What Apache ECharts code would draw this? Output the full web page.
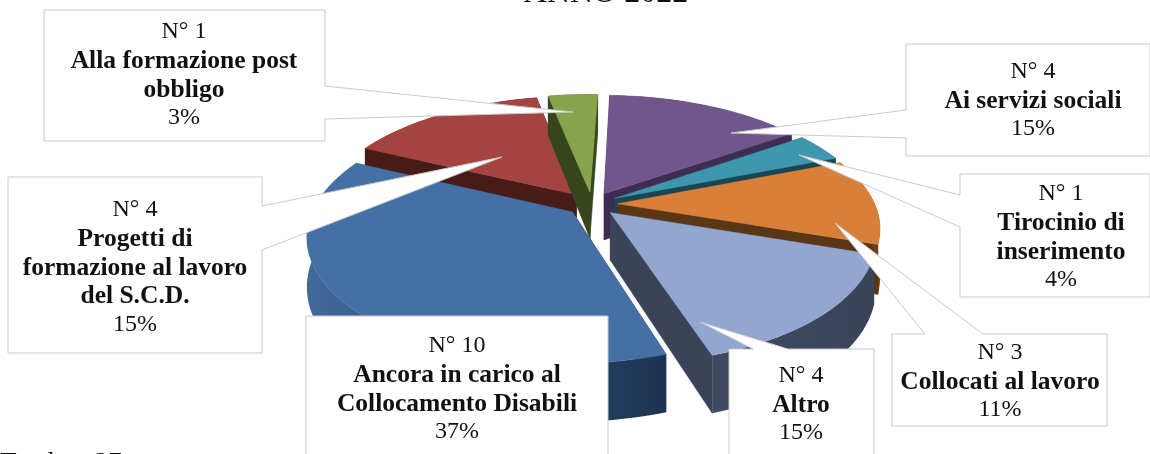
<!DOCTYPE html>
<html><head><meta charset="utf-8">
<style>html,body{margin:0;padding:0;background:#fff;overflow:hidden}#c{width:1150px;height:454px}</style>
<script src="https://cdn.jsdelivr.net/npm/echarts@6/dist/echarts.min.js"></script>
</head><body><div id="c"></div>
<script>
// ---- data ----
const categories = ['Ai servizi sociali','Tirocinio di inserimento','Collocati al lavoro','Altro','Ancora in carico al Collocamento Disabili','Progetti di formazione al lavoro del S.C.D.','Alla formazione post obbligo'];
const counts = [4,1,3,4,10,4,1];
const percents = ['15%','4%','11%','15%','37%','15%','3%'];
const labelLines = [['Ai servizi sociali'],['Tirocinio di','inserimento'],['Collocati al lavoro'],['Altro'],['Ancora in carico al','Collocamento Disabili'],['Progetti di','formazione al lavoro','del S.C.D.'],['Alla formazione post','obbligo']];
const topColors = ['#71568c','#3f96af','#d8803a','#92a6cf','#4570a6','#a44442','#87a34c'];
const wallColors = ['#3f2c52','#184655','#5a3516','#3a4358','#1f3654','#471b18','#37451c'];
const outerFrom = ['#3f2c52','#184655','#6b3f1a','#3e4a62','#41699a','#471b18','#37451c'];
const outerTo = ['#3f2c52','#184655','#6b3f1a','#3a4358','#1c3350','#471b18','#37451c'];
const paintOrder = [5,6,0,1,2,4,3];

// ---- 3D projection layout ----
const CX=592, CY=204, R=257, RY=120, K=0.185, DEPTH=47, EXPLODE=0.1, START=2;
const total = counts.reduce((a,b)=>a+b,0);
const FONT = '"Liberation Serif"';

function proj(u,v,z){const s=1/(1-K*v);return [CX+R*u*s, CY+RY*v*s+(z?DEPTH*s:0)];}
function pt(off,a,r,z){const t=a*Math.PI/180;return proj(off[0]+r*Math.sin(t),off[1]-r*Math.cos(t),z);}
function arc(off,a0,a1,z){const out=[],n=Math.max(4,Math.ceil((a1-a0)/2));for(let i=0;i<=n;i++)out.push(pt(off,a0+(a1-a0)*i/n,1,z));return out;}

const angles=[];let acc=START;
counts.forEach(c=>{const a0=acc;acc+=c/total*360;angles.push([a0,acc]);});

function renderItem(params,api){
  const i=paintOrder[params.dataIndex];
  const [a0,a1]=angles[i];
  const m=(a0+a1)/2*Math.PI/180;
  const off=[EXPLODE*Math.sin(m),-EXPLODE*Math.cos(m)];
  const topArc=arc(off,a0,a1,false), botArc=arc(off,a0,a1,true);
  const apexT=pt(off,0,0,false), apexB=pt(off,0,0,true);
  const xs=topArc.map(p=>p[0]);const xmin=Math.min(...xs),xmax=Math.max(...xs);
  const wall=(o)=>({type:'polygon',shape:{points:o},style:{fill:wallColors[i],stroke:wallColors[i],lineWidth:.5}});
  return {type:'group',children:[
    wall([apexT,topArc[0],botArc[0],apexB]),
    wall([apexT,topArc[topArc.length-1],botArc[botArc.length-1],apexB]),
    {type:'polygon',shape:{points:topArc.concat(botArc.slice().reverse())},
     style:{fill:new echarts.graphic.LinearGradient(xmin,0,xmax,0,[{offset:0,color:outerFrom[i]},{offset:1,color:outerTo[i]}],true),stroke:null}},
    {type:'polygon',shape:{points:[apexT].concat(topArc)},style:{fill:topColors[i],stroke:topColors[i],lineWidth:.5}}
  ]};
}

// ---- callouts (annotation layout, order matches categories) ----
const callouts=[
 {box:[906,44,1150,156], wedge:{side:'left',a:[906,110],tip:[731,133],b:[906,138]}, cx:1033, y:60},
 {box:[960,174,1150,297],wedge:{side:'left',a:[960,195],tip:[799,155],b:[960,227]}, cx:1061, y:182},
 {box:[892,334,1107,426],wedge:{side:'top',a:[925,334],tip:[835,223],b:[983,334]}, cx:1000, y:341},
 {box:[729,349,874,480], wedge:{side:'top',a:[753,349],tip:[700,322],b:[788,349]}, cx:801, y:364},
 {box:[306,316,608,480], cx:457, y:334},
 {box:[8,177,262,353],   wedge:{side:'right',a:[262,206],tip:[502,157],b:[262,250]}, cx:135, y:198},
 {box:[44,10,325,141],   wedge:{side:'right',a:[325,86],tip:[573,112],b:[325,119]}, cx:184, y:20}
];
const LINE=28.6;
function boxPoly(c){
  const [x0,y0,x1,y1]=c.box,w=c.wedge;
  if(!w) return [[x0,y0],[x1,y0],[x1,y1],[x0,y1]];
  if(w.side==='left') return [[x0,y0],[x1,y0],[x1,y1],[x0,y1],w.b,w.tip,w.a];
  if(w.side==='right')return [[x0,y0],[x1,y0],w.a,w.tip,w.b,[x1,y1],[x0,y1]];
  return [[x0,y0],w.a,w.tip,w.b,[x1,y0],[x1,y1],[x0,y1]];
}
const graphics=[];
const calloutOrder=[4,3,2,5,6,0,1];
calloutOrder.forEach(i=>{
  const c=callouts[i];
  graphics.push({type:'polygon',z:10,shape:{points:boxPoly(c)},style:{fill:'#fff',stroke:'#c9c9c9',lineWidth:1}});
  const lines=['N° '+counts[i]].concat(labelLines[i]).concat([percents[i]]);
  lines.forEach((t,j)=>{
    const bold=j>0&&j<lines.length-1;
    graphics.push({type:'text',z:11,style:{text:t,x:c.cx,y:c.y+j*LINE,align:'center',verticalAlign:'top',fill:'#111',
      font:(bold?'bold 25.5px ':'24px ')+FONT}});
  });
});
graphics.push({type:'text',z:11,style:{text:'ANNO 2022',x:606,y:-22,align:'center',verticalAlign:'top',fill:'#111',font:'32px '+FONT}});
graphics.push({type:'text',z:11,style:{text:'Totale:   27',x:0,y:450,align:'left',verticalAlign:'top',fill:'#111',font:'27px '+FONT}});

const chart=echarts.init(document.getElementById('c'),null,{renderer:'canvas'});
chart.setOption({
  animation:false,
  xAxis:{show:false},yAxis:{show:false},
  series:[{type:'custom',coordinateSystem:'none',renderItem,silent:true,
    data:paintOrder.map(i=>({name:categories[i],value:counts[i]}))}],
  graphic:{elements:graphics}
});
</script></body></html>
